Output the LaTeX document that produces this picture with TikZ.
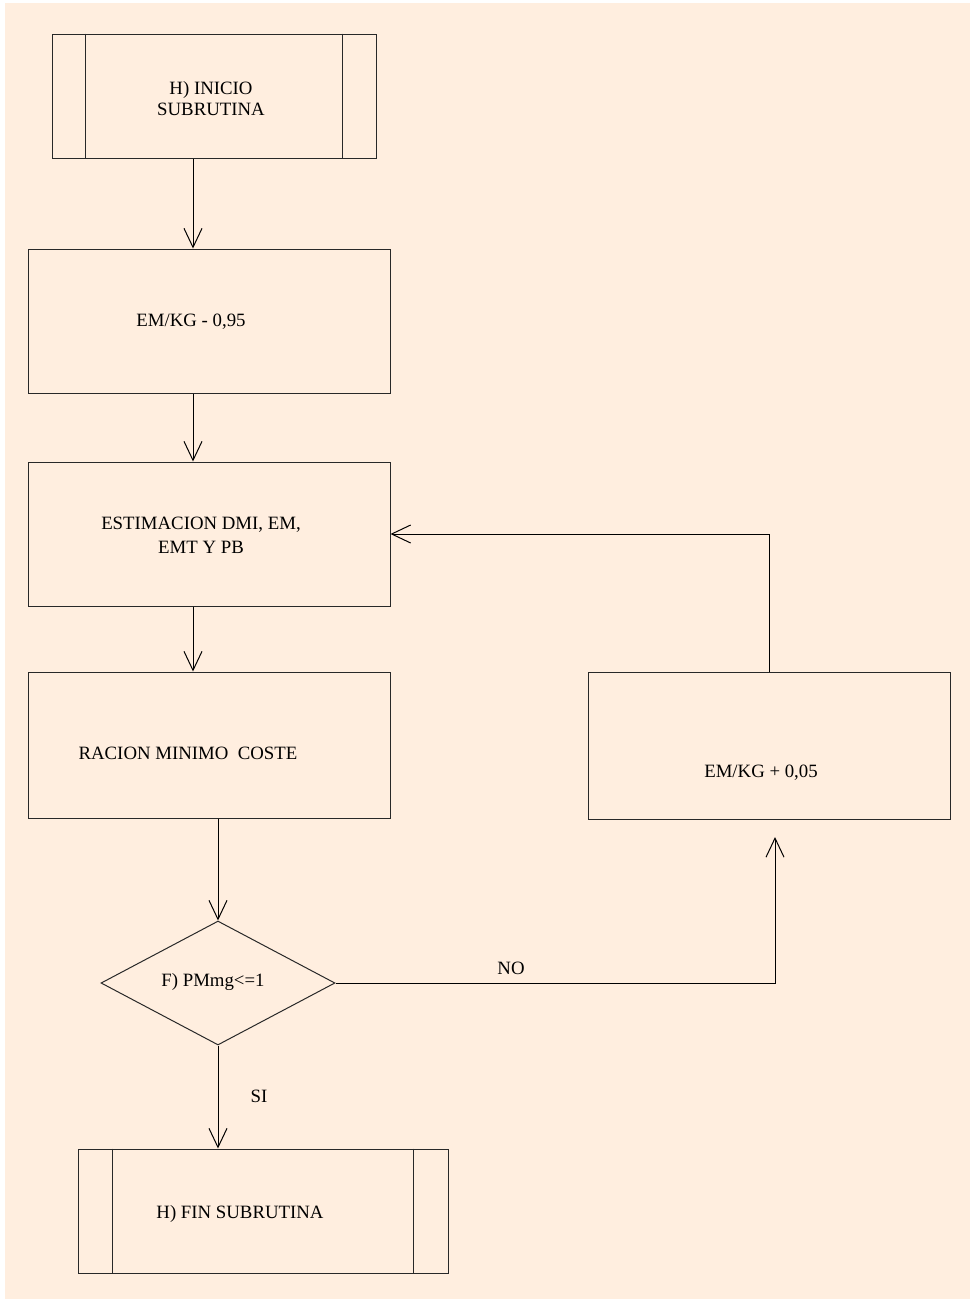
\documentclass[tikz,border=0pt]{standalone}
\usepackage{fontspec}
\setmainfont{Liberation Serif}
\usetikzlibrary{arrows.meta,shapes.geometric}
\definecolor{fondo}{RGB}{255,238,223}
\definecolor{trazo}{RGB}{40,40,40}
\tikzset{
  caja/.style = {draw=trazo, line width=1pt, inner sep=0pt, minimum width=362pt, minimum height=145pt},
  subrutina/.style = {caja, align=center, minimum height=124pt},
  rombo/.style = {diamond, draw=trazo, line width=1pt, inner sep=0pt, aspect=1.9, minimum width=234pt, minimum height=124pt},
  flecha/.style = {draw=black, line width=1pt, -{Straight Barb[length=19pt, width=18pt]}},
  rotulo/.style = {inner sep=0pt, align=center}
}

\begin{document}
\begin{tikzpicture}[x=1pt, y=-1pt, font=\fontsize{18.8}{24}\selectfont]
  \fill[fondo] (5,3) rectangle (970,1299);
  \useasboundingbox (0,0) rectangle (970,1299);
  % cajas
  \node [subrutina, minimum width=324pt] (ini) at (214,96) {};
  \node [rotulo, font=\fontsize{18.8}{21}\selectfont] (tini) at (211,99) {H) INICIO\\SUBRUTINA};
  \node [caja, minimum height=144pt] (emk) at (209,321) {};
  \node [rotulo] (temk) at (191,322) {EM/KG - 0,95};
  \node [caja, minimum height=144pt] (est) at (209,534) {};
  \node [rotulo] (test) at (201,535) {ESTIMACION DMI, EM,\\EMT Y PB};
  \node [caja, minimum height=146pt] (rac) at (209,745) {};
  \node [rotulo] (trac) at (188,753) {RACION MINIMO\ \ COSTE};
  \node [rombo] (pmmg) at (218,983) {};
  \node [rotulo] (tpmmg) at (213,982) {F) PMmg<=1};
  \node [subrutina, minimum width=370pt] (fin) at (263,1211) {};
  \node [rotulo] (tfin) at (240,1214) {H) FIN SUBRUTINA};
  \node [caja, minimum height=147pt] (inc) at (769,746) {};
  \node [rotulo] (tinc) at (761,773) {EM/KG + 0,05};
  % lineas de subrutina
  \foreach \n/\d in {ini/34pt, fin/35pt} {
    \draw [draw=trazo, line width=1pt] ([xshift=\d]\n.north west) -- ([xshift=\d]\n.south west);
    \draw [draw=trazo, line width=1pt] ([xshift=-\d]\n.north east) -- ([xshift=-\d]\n.south east);
  }
  % flechas
  \draw [flecha] ([xshift=-21pt]ini.south) -- ([xshift=-16pt]emk.north);
  \draw [flecha] ([xshift=-16pt]emk.south) -- ([xshift=-16pt]est.north);
  \draw [flecha] ([xshift=-16pt]est.south) -- ([xshift=-16pt]rac.north);
  \draw [flecha] (pmmg.north |- rac.south) -- (pmmg.north);
  \draw [flecha] (pmmg.south) -- (pmmg.south |- fin.north);
  \node [rotulo] (si) at (259,1096) {SI};
  \coordinate (pno) at (775,837);
  \draw [flecha] (pmmg.east) -| (pno);
  \node [rotulo] (no) at (511,968) {NO};
  \draw [flecha] (inc.north) |- (est.east);
\end{tikzpicture}
\end{document}
